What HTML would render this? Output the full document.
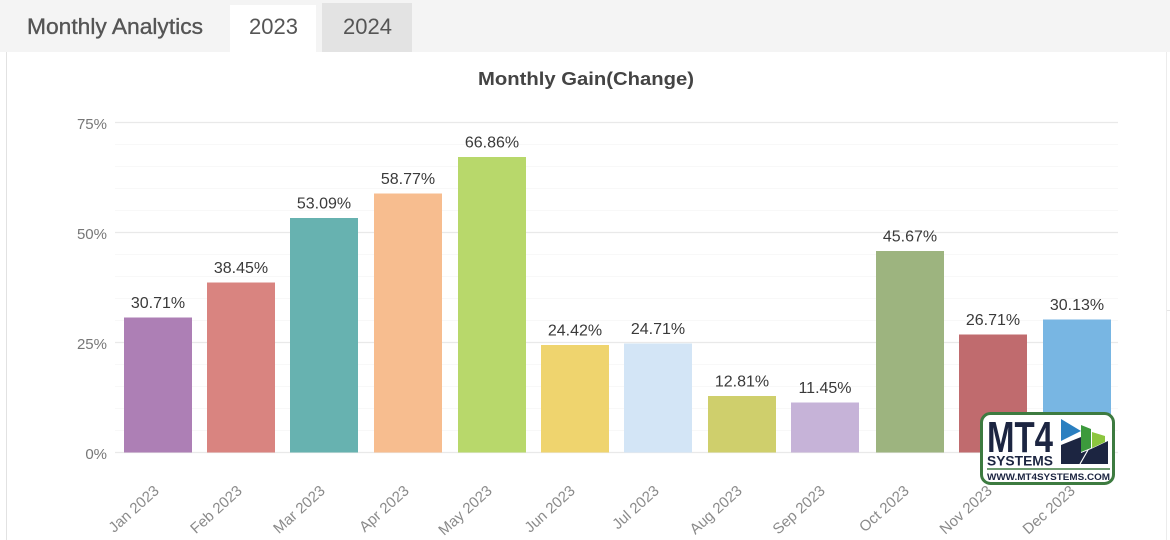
<!DOCTYPE html>
<html>
<head>
<meta charset="utf-8">
<style>
  html,body{margin:0;padding:0;background:#fff;}
  body{width:1170px;height:540px;overflow:hidden;font-family:"Liberation Sans",Arial,sans-serif;}
  svg{display:block;}
</style>
</head>
<body>
<svg width="1170" height="540" viewBox="0 0 1170 540" xmlns="http://www.w3.org/2000/svg" font-family="Liberation Sans, Arial, sans-serif">
  <!-- background -->
  <rect x="0" y="0" width="1170" height="540" fill="#ffffff"/>
  <!-- tab bar -->
  <rect x="0" y="0" width="1170" height="52" fill="#f4f4f4"/>
  <rect x="230" y="5" width="86" height="48" fill="#ffffff"/>
  <rect x="322" y="3" width="90" height="49" fill="#e3e3e3"/>
  <text x="27" y="34" font-size="22" fill="#555" textLength="176" lengthAdjust="spacingAndGlyphs" stroke="#555" stroke-width="0.35">Monthly Analytics</text>
  <text x="249" y="34" font-size="22" fill="#555">2023</text>
  <text x="343" y="34" font-size="22" fill="#555">2024</text>

  <!-- panel borders -->
  <line x1="6.5" y1="52" x2="6.5" y2="540" stroke="#e2e2e2" stroke-width="1"/>
  <line x1="1166.5" y1="52" x2="1166.5" y2="540" stroke="#ececec" stroke-width="1"/>
  <line x1="1167" y1="310.5" x2="1170" y2="310.5" stroke="#e6e6e6" stroke-width="1"/>

  <!-- title -->
  <text x="586" y="85" font-size="18.5" font-weight="bold" fill="#444" text-anchor="middle" textLength="216" lengthAdjust="spacingAndGlyphs">Monthly Gain(Change)</text>

  <!-- faint minor gridlines -->
  <g stroke="#f8f8f8" stroke-width="1">
    <line x1="115" y1="144.5" x2="1118" y2="144.5"/>
    <line x1="115" y1="166.5" x2="1118" y2="166.5"/>
    <line x1="115" y1="188.5" x2="1118" y2="188.5"/>
    <line x1="115" y1="210.5" x2="1118" y2="210.5"/>
    <line x1="115" y1="254.5" x2="1118" y2="254.5"/>
    <line x1="115" y1="276.5" x2="1118" y2="276.5"/>
    <line x1="115" y1="298.5" x2="1118" y2="298.5"/>
    <line x1="115" y1="320.5" x2="1118" y2="320.5"/>
    <line x1="115" y1="364.5" x2="1118" y2="364.5"/>
    <line x1="115" y1="386.5" x2="1118" y2="386.5"/>
    <line x1="115" y1="408.5" x2="1118" y2="408.5"/>
    <line x1="115" y1="430.5" x2="1118" y2="430.5"/>
  </g>
  <!-- main gridlines -->
  <g stroke="#e9e9e9" stroke-width="1.3">
    <line x1="115" y1="122.5" x2="1118" y2="122.5"/>
    <line x1="115" y1="232.5" x2="1118" y2="232.5"/>
    <line x1="115" y1="342.5" x2="1118" y2="342.5"/>
    <line x1="115" y1="452.5" x2="1118" y2="452.5"/>
  </g>

  <!-- y tick labels -->
  <g font-size="15" fill="#777" text-anchor="end">
    <text x="107" y="129">75%</text>
    <text x="107" y="239">50%</text>
    <text x="107" y="349">25%</text>
    <text x="107" y="459">0%</text>
  </g>

  <!-- bars -->
  <rect x="124" y="317.5" width="68" height="135" fill="#ad7fb5"/>
  <rect x="207" y="282.5" width="68" height="170" fill="#d98480"/>
  <rect x="290" y="218" width="68" height="234.5" fill="#67b2b0"/>
  <rect x="374" y="193.5" width="68" height="259" fill="#f7bd8f"/>
  <rect x="458" y="157" width="68" height="295.5" fill="#b8d86b"/>
  <rect x="541" y="345" width="68" height="107.5" fill="#efd46e"/>
  <rect x="624" y="343.5" width="68" height="109" fill="#d3e5f6"/>
  <rect x="708" y="396" width="68" height="56.5" fill="#cfcf6c"/>
  <rect x="791" y="402.5" width="68" height="50" fill="#c6b3d8"/>
  <rect x="876" y="251" width="68" height="201.5" fill="#9db47f"/>
  <rect x="959" y="334.5" width="68" height="118" fill="#c06b6e"/>
  <rect x="1043" y="319.5" width="68" height="133" fill="#78b6e3"/>

  <!-- data labels -->
  <g font-size="16" fill="#3a3a3a" text-anchor="middle">
    <text x="158" y="308">30.71%</text>
    <text x="241" y="273">38.45%</text>
    <text x="324" y="208.5">53.09%</text>
    <text x="408" y="184">58.77%</text>
    <text x="492" y="147.5">66.86%</text>
    <text x="575" y="335.5">24.42%</text>
    <text x="658" y="334">24.71%</text>
    <text x="742" y="386.5">12.81%</text>
    <text x="825" y="393">11.45%</text>
    <text x="910" y="241.5">45.67%</text>
    <text x="993" y="325">26.71%</text>
    <text x="1077" y="310">30.13%</text>
  </g>

  <!-- x labels -->
  <g font-size="15" fill="#8a8a8a" text-anchor="end">
    <text transform="translate(160,492) rotate(-42)">Jan 2023</text>
    <text transform="translate(243,492) rotate(-42)">Feb 2023</text>
    <text transform="translate(326,492) rotate(-42)">Mar 2023</text>
    <text transform="translate(410,492) rotate(-42)">Apr 2023</text>
    <text transform="translate(493,492) rotate(-42)">May 2023</text>
    <text transform="translate(576,492) rotate(-42)">Jun 2023</text>
    <text transform="translate(660,492) rotate(-42)">Jul 2023</text>
    <text transform="translate(743,492) rotate(-42)">Aug 2023</text>
    <text transform="translate(826,492) rotate(-42)">Sep 2023</text>
    <text transform="translate(910,492) rotate(-42)">Oct 2023</text>
    <text transform="translate(993,492) rotate(-42)">Nov 2023</text>
    <text transform="translate(1076,492) rotate(-42)">Dec 2023</text>
  </g>

  <!-- MT4 Systems logo -->
  <rect x="981.5" y="413.5" width="132" height="70" rx="9" ry="9" fill="#ffffff" stroke="#3d7b40" stroke-width="3"/>
  <text x="987" y="452" font-size="44" font-weight="bold" fill="#1c2541" textLength="66" lengthAdjust="spacingAndGlyphs">MT4</text>
  <text x="987" y="465.5" font-size="14" font-weight="bold" fill="#1c2541" textLength="66" lengthAdjust="spacingAndGlyphs">SYSTEMS</text>
  <line x1="987" y1="469" x2="1110" y2="469" stroke="#3d7b40" stroke-width="1.5"/>
  <text x="987" y="480" font-size="9.5" font-weight="bold" fill="#1c2541" textLength="123" lengthAdjust="spacingAndGlyphs">WWW.MT4SYSTEMS.COM</text>
  <!-- icon -->
  <polygon points="1061,419 1061,441 1081,431" fill="#2a7fc0"/>
  <polygon points="1081,425 1091,429 1091,448 1081,452" fill="#3c9a3c"/>
  <polygon points="1092,432 1105,436 1105,442 1092,448" fill="#8cc63f"/>
  <polygon points="1061,445 1081,437 1081,453 1091,449 1108,441 1108,464 1061,464" fill="#1c2541"/>
  <line x1="1080" y1="464" x2="1088" y2="450" stroke="#ffffff" stroke-width="1.2"/>
</svg>
</body>
</html>
